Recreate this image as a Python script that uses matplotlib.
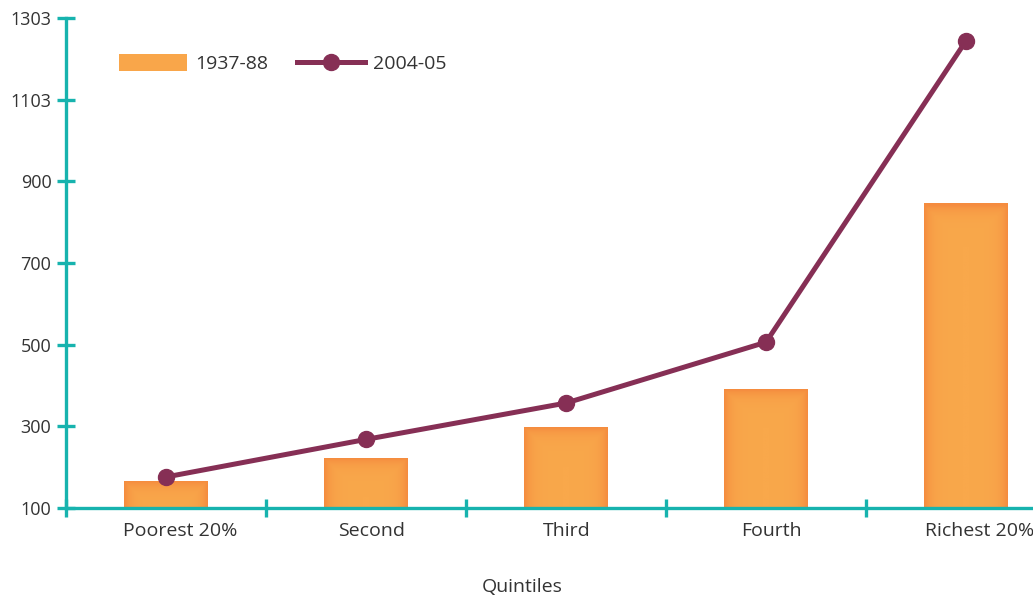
import numpy as np
import matplotlib
matplotlib.use("Agg")
import matplotlib.pyplot as plt
from matplotlib.colors import LinearSegmentedColormap
from matplotlib.patches import Patch
from matplotlib.lines import Line2D

quintiles = ["Poorest 20%", "Second", "Third", "Fourth", "Richest 20%"]
spend_1937 = [165, 222, 296, 391, 845]
spend_2004 = [176, 268, 357, 506, 1244]
ytick_vals = [100, 300, 500, 700, 900, 1100, 1300]
ytick_labels = ["100", "300", "500", "700", "900", "1103", "1303"]

teal = "#17B3AE"
plum = "#862F55"
orange = "#F9A64A"
txt = "#333333"

# category labels sit a little right of the bar centres
label_shift = [0.07, 0.03, 0.005, 0.025, 0.07]

plt.rcParams["font.family"] = ["Open Sans", "DejaVu Sans"]

fig = plt.figure(figsize=(10.33, 6), dpi=100)
ax = fig.add_axes([66 / 1033, 92 / 600, 1 - 66 / 1033, 490 / 600])
xlim = (-0.5, 4.335)
ax.set_xlim(*xlim)
ax.set_ylim(100, 1300)

# bars with a soft darker rim
cmap = LinearSegmentedColormap.from_list("bar", ["#F58C3F", "#F9A84B"])
w = 0.42
xs = np.arange(len(quintiles))
for x, v in zip(xs, spend_1937):
    gx = np.linspace(0, 1, 80)
    gy = np.linspace(0, 1, 80)
    X, Y = np.meshgrid(gx, gy)
    d = np.minimum(np.minimum(X, 1 - X) * w * 200, (1 - Y) * (v - 100) * 0.408)
    z = 1 - np.exp(-d / 7)
    ax.imshow(z, cmap=cmap, vmin=0, vmax=1, origin="lower", aspect="auto",
              extent=[x - w / 2, x + w / 2, 100, v], zorder=1, interpolation="bilinear")
ax.set_xlim(*xlim)
ax.set_ylim(100, 1300)

ax.plot(xs, spend_2004, color=plum, lw=3.6, marker="o", ms=11.5, zorder=3,
        solid_capstyle="round")

for s in ["top", "right"]:
    ax.spines[s].set_visible(False)
for s in ["left", "bottom"]:
    ax.spines[s].set_color(teal)
    ax.spines[s].set_linewidth(2.4)
    ax.spines[s].set_zorder(4)

ax.set_yticks(ytick_vals)
ax.set_yticklabels(ytick_labels)
ax.set_xticks([-0.5, 0.5, 1.5, 2.5, 3.5])
ax.set_xticklabels([])
ax.set_xticks(xs + np.array(label_shift), minor=True)
ax.set_xticklabels(quintiles, minor=True)
ax.tick_params(axis="both", which="major", direction="inout", length=13, width=2.4,
               color=teal, labelsize=13, labelcolor=txt)
ax.tick_params(axis="y", pad=4)
ax.tick_params(axis="x", which="minor", length=0, pad=10, labelsize=14, labelcolor=txt)

ax.set_xlabel("Quintiles", fontsize=14, color=txt)
ax.xaxis.set_label_coords(0.4716, -0.143)

handles = [Patch(facecolor=orange, edgecolor="none"),
           Line2D([], [], color=plum, lw=3.6, marker="o", ms=11.5)]
fig.legend(handles, ["1937-88", "2004-05"], loc="upper left",
           bbox_to_anchor=(119 / 1033, 1 - 54 / 600), ncol=2, frameon=False,
           handlelength=3.5, handleheight=0.95, handletextpad=0.4,
           columnspacing=1.5, fontsize=14, borderpad=0, borderaxespad=0,
           labelcolor=txt)

fig.savefig("out.png", dpi=100)
